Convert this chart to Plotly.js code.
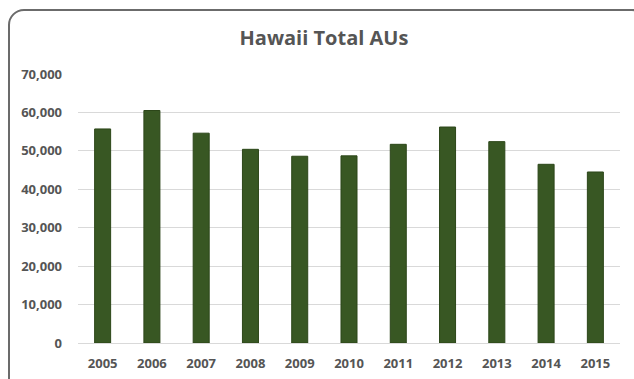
<!DOCTYPE html>
<html>
<head>
<meta charset="utf-8">
<script src="https://cdn.plot.ly/plotly-3.0.1.min.js"></script>
<style>
  html, body { margin: 0; padding: 0; background: #ffffff; }
  #wrap { position: relative; width: 634px; height: 379px; overflow: hidden; }
  #frame {
    position: absolute; left: 8px; top: 9px; width: 640px; height: 390px;
    border: 2px solid #6b6b6b; border-radius: 16px; box-sizing: border-box;
  }
  #chart { position: absolute; left: 0; top: 0; width: 634px; height: 379px; }
</style>
</head>
<body>
<div id="wrap">
  <div id="frame"></div>
  <div id="chart"></div>
</div>
<script>
// Hawaii total animal units by year
const years = ['2005', '2006', '2007', '2008', '2009', '2010', '2011', '2012', '2013', '2014', '2015'];
const totalAUs = [55700, 60500, 54600, 50400, 48600, 48700, 51700, 56200, 52400, 46500, 44500];
const yTickValues = [0, 10000, 20000, 30000, 40000, 50000, 60000, 70000];

const labelFont = { family: 'Open Sans, sans-serif', size: 13, color: '#555555', weight: 'bold' };

const trace = {
  type: 'bar',
  x: years,
  y: totalAUs,
  marker: { color: '#385723', line: { color: '#2c4619', width: 1 } },
  hoverinfo: 'x+y'
};

const layout = {
  width: 634,
  height: 379,
  margin: { l: 78, r: 14, t: 74, b: 36 },
  paper_bgcolor: 'rgba(0,0,0,0)',
  plot_bgcolor: 'rgba(0,0,0,0)',
  bargap: 0.675,
  showlegend: false,
  title: {
    text: 'Hawaii Total AUs',
    font: { family: 'Open Sans, sans-serif', size: 20, color: '#555555', weight: 'bold' },
    xref: 'container', x: 0.511, xanchor: 'center',
    yref: 'container', y: 0.9, yanchor: 'middle'
  },
  xaxis: {
    type: 'category',
    tickfont: labelFont,
    showgrid: false,
    showline: false,
    zeroline: false,
    ticks: '',
    ticklabelstandoff: 11
  },
  yaxis: {
    range: [0, 70000],
    tickvals: yTickValues,
    tickformat: ',d',
    tickfont: labelFont,
    showgrid: true,
    gridcolor: '#d9d9d9',
    gridwidth: 1,
    zeroline: true,
    zerolinecolor: '#d9d9d9',
    zerolinewidth: 1,
    showline: false,
    ticks: '',
    ticklabelstandoff: 15
  }
};

Plotly.newPlot('chart', [trace], layout, { displayModeBar: false, staticPlot: true });
</script>
</body>
</html>
